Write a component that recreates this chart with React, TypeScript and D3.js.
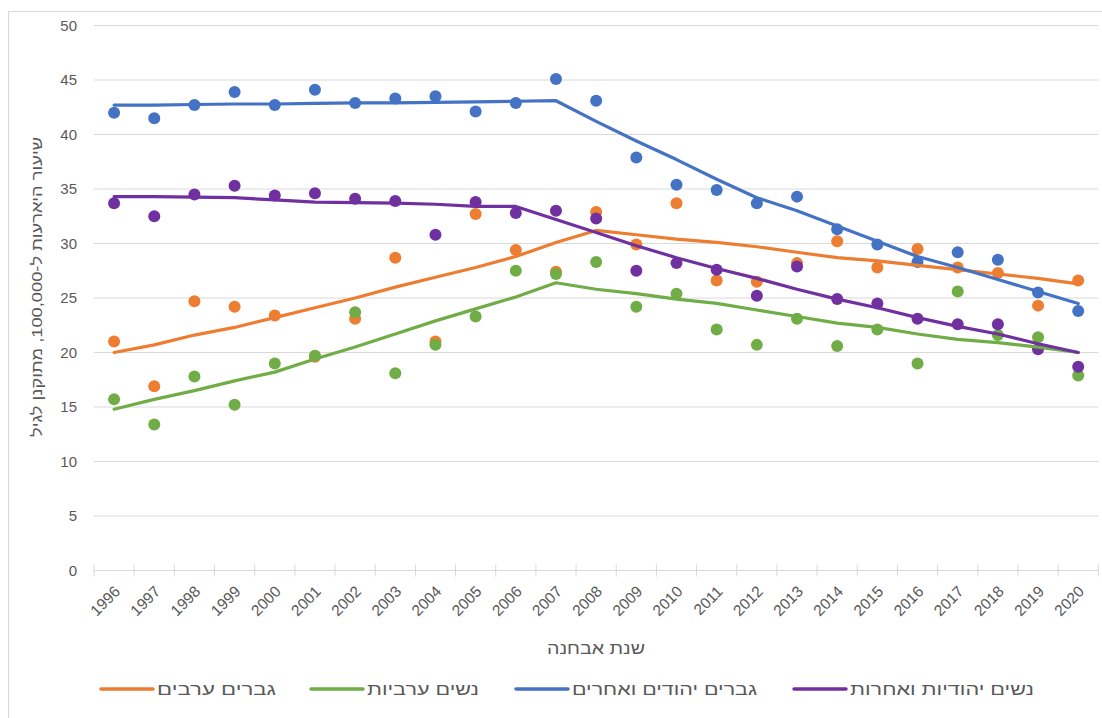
import React from "react";
import * as d3 from "d3";

const years = [1996,1997,1998,1999,2000,2001,2002,2003,2004,2005,2006,2007,2008,2009,2010,2011,2012,2013,2014,2015,2016,2017,2018,2019,2020];

const arabMen = [21.0,16.9,24.7,24.2,23.4,19.6,23.1,28.7,21.0,32.7,29.4,27.4,32.9,29.9,33.7,26.6,26.5,28.2,30.2,27.8,29.5,27.8,27.3,24.3,26.6];
const arabWomen = [15.7,13.4,17.8,15.2,19.0,19.7,23.7,18.1,20.7,23.3,27.5,27.2,28.3,24.2,25.4,22.1,20.7,23.1,20.6,22.1,19.0,25.6,21.6,21.4,17.9];
const jewishMen = [42.0,41.5,42.7,43.9,42.7,44.1,42.9,43.3,43.5,42.1,42.9,45.1,43.1,37.9,35.4,34.9,33.7,34.3,31.3,29.9,28.3,29.2,28.5,25.5,23.8];
const jewishWomen = [33.7,32.5,34.5,35.3,34.4,34.6,34.1,33.9,30.8,33.8,32.8,33.0,32.3,27.5,28.2,27.6,25.2,27.9,24.9,24.5,23.1,22.6,22.6,20.3,18.7];

const arabMenTrend = [20.0,20.7,21.6,22.3,23.2,24.1,25.0,26.0,26.9,27.8,28.8,30.1,31.2,30.8,30.4,30.1,29.7,29.2,28.7,28.4,28.0,27.6,27.2,26.8,26.3];
const arabWomenTrend = [14.8,15.7,16.5,17.4,18.2,19.4,20.5,21.7,22.9,24.0,25.1,26.4,25.8,25.4,24.9,24.5,23.9,23.3,22.7,22.3,21.7,21.2,20.9,20.5,20.0];
const jewishMenTrend = [42.7,42.7,42.75,42.8,42.8,42.85,42.9,42.9,42.95,43.0,43.05,43.1,41.2,39.4,37.7,35.9,34.2,33.0,31.6,30.2,28.8,27.8,26.7,25.6,24.5];
const jewishWomenTrend = [34.3,34.3,34.25,34.2,34.0,33.8,33.75,33.7,33.6,33.4,33.4,32.2,31.0,29.8,28.7,27.7,26.8,25.8,24.9,24.1,23.2,22.4,21.7,20.8,20.0];

const seriesNames = ["גברים ערבים", "נשים ערביות", "גברים יהודים ואחרים", "נשים יהודיות ואחרות"];
const seriesColors = ["#ED7D31", "#70AD47", "#4472C4", "#7030A0"];
const seriesPoints = [arabMen, arabWomen, jewishMen, jewishWomen];
const seriesTrends = [arabMenTrend, arabWomenTrend, jewishMenTrend, jewishWomenTrend];

const yTicks = [0,5,10,15,20,25,30,35,40,45,50];
const yTitle = "שיעור היארעות ל-100,000, מתוקנן לגיל";
const xTitle = "שנת אבחנה";

const legendX = [101, 311, 516, 794];
const legendTextWidth = [119, 112, 185, 184];

export default function App() {
  const W = 1102, H = 718;
  const x = d3.scaleLinear().domain([1995.5, 2020.5]).range([94, 1098.3]);
  const y = d3.scaleLinear().domain([0, 50]).range([570.5, 25.5]);
  const line = d3.line<number>().x((_, i) => x(years[i])).y(d => y(d)).curve(d3.curveLinear);
  const font = "'Liberation Sans', Arial, sans-serif";
  const tickBounds = d3.range(1995.5, 2021, 1);

  return (
    <svg width={W} height={H} style={{ position: "absolute", left: 0, top: 0, background: "#fff" }} fontFamily={font}>
      <rect x={8.5} y={11.5} width={1100} height={720} fill="#fff" stroke="#d9d9d9" />
      {yTicks.map(t => (
        <g key={t}>
          {t > 0 && <line x1={94} x2={1098.3} y1={y(t)} y2={y(t)} stroke="#d9d9d9" strokeWidth={1} />}
          <text x={77} y={y(t)} dy="0.36em" textAnchor="end" fontSize={15} fill="#595959">{t}</text>
        </g>
      ))}
      <line x1={94} x2={1098.3} y1={y(0)} y2={y(0)} stroke="#d9d9d9" strokeWidth={1} />
      {tickBounds.map(b => (
        <line key={b} x1={x(b)} x2={x(b)} y1={y(0) - 6} y2={y(0) + 6} stroke="#d9d9d9" strokeWidth={1} />
      ))}
      {years.map(yr => (
        <text key={yr} transform={`translate(${x(yr) + 7},${y(0) + 22}) rotate(-45)`} textAnchor="end" fontSize={15.5} fill="#595959">{yr}</text>
      ))}
      {seriesPoints.map((pts, s) => (
        <g key={s}>
          {pts.map((v, i) => (
            <circle key={i} cx={x(years[i])} cy={y(v)} r={6} fill={seriesColors[s]} />
          ))}
        </g>
      ))}
      {seriesTrends.map((tr, s) => (
        <path key={s} d={line(tr) || ""} fill="none" stroke={seriesColors[s]} strokeWidth={3.2} strokeLinejoin="round" strokeLinecap="round" />
      ))}
      <text transform={`translate(42,287) rotate(-90)`} x={-150} textLength={300} lengthAdjust="spacingAndGlyphs" textAnchor="start" fontSize={15} fill="#595959">{yTitle}</text>
      <text x={547} y={654} textLength={98} lengthAdjust="spacingAndGlyphs" textAnchor="start" fontSize={16} fill="#595959">{xTitle}</text>
      {seriesNames.map((n, s) => (
        <g key={n}>
          <line x1={legendX[s]} x2={legendX[s] + 52} y1={689} y2={689} stroke={seriesColors[s]} strokeWidth={3.5} strokeLinecap="round" />
          <text x={legendX[s] + 56} y={689} dy="0.36em" textLength={legendTextWidth[s]} lengthAdjust="spacingAndGlyphs" textAnchor="start" fontSize={16} fill="#595959">{n}</text>
        </g>
      ))}
    </svg>
  );
}
